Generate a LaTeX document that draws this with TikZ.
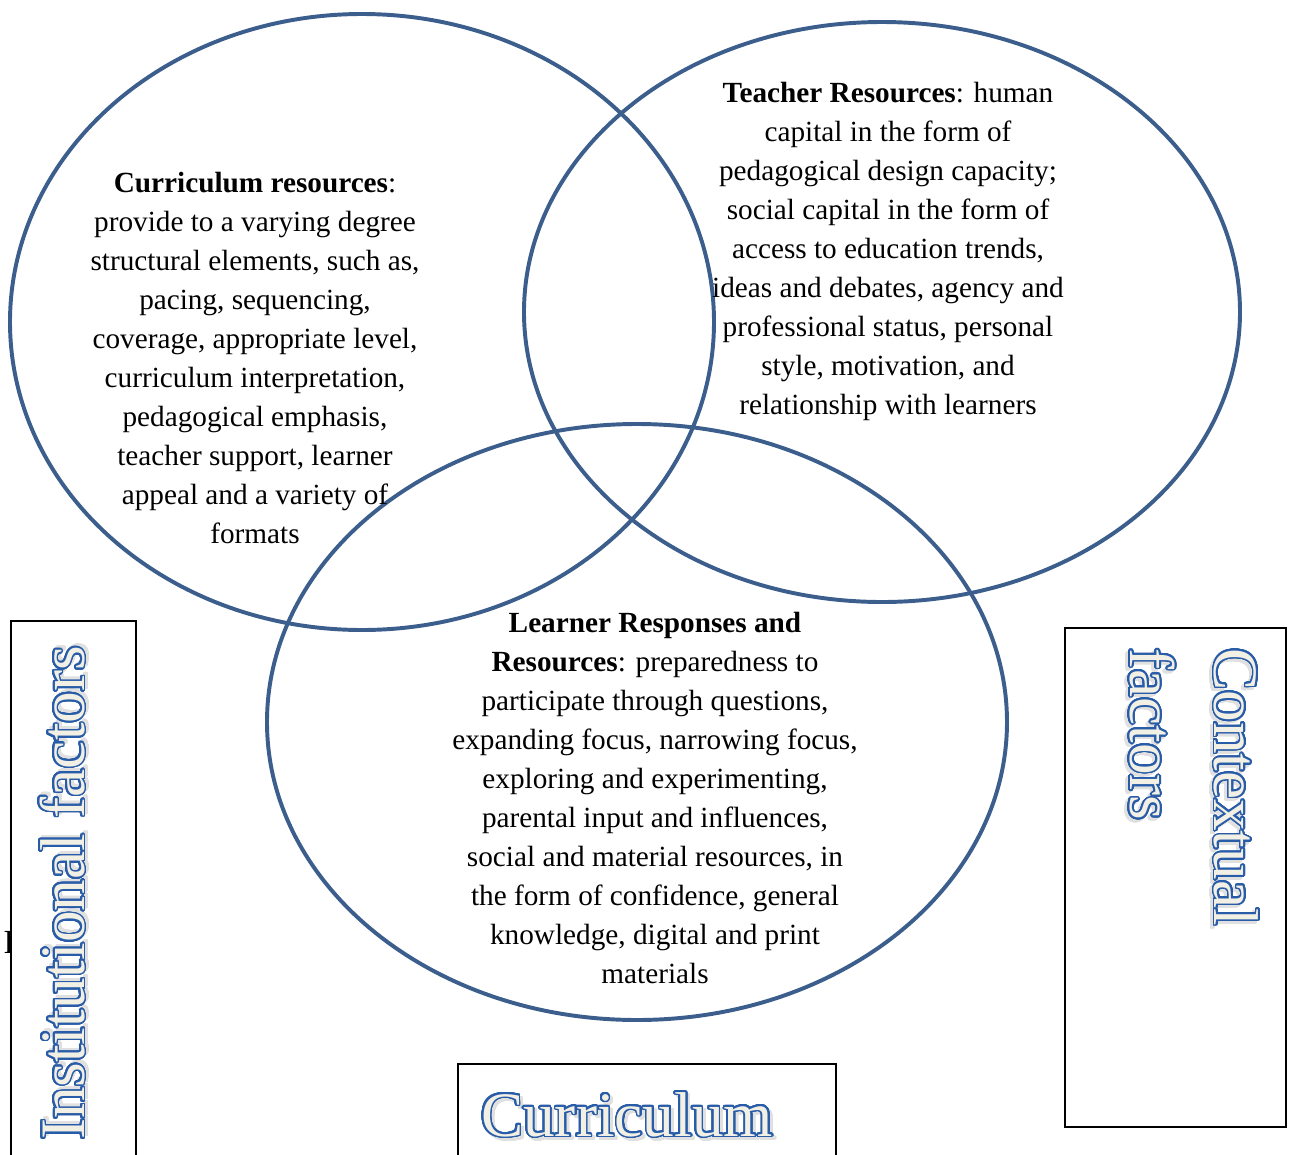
\documentclass[tikz,border=0pt]{standalone}
\usepackage{fontspec}
\setmainfont{Liberation Serif}
\usepackage{contour}
\contourlength{0.6pt}
\contournumber{32}
\definecolor{ringblue}{RGB}{59,94,140}
\definecolor{artblue}{RGB}{40,92,168}
\definecolor{artcream}{RGB}{242,240,229}
\tikzset{
  ring/.style={draw=ringblue,line width=1.4pt},
  body/.style={align=center,inner sep=0pt,font=\fontsize{10.4}{13.87}\selectfont},
  factorbox/.style={draw=black,line width=0.7pt,fill=white},
  artlabel/.style={inner sep=0pt,font=\fontsize{22.5}{30}\selectfont}
}
% outlined word with a faint drop shadow
\newcommand{\artword}[1]{%
  \rlap{\kern1pt\raisebox{-1pt}{\contour{black!12}{\textcolor{black!12}{#1}}}}%
  \contour{artblue}{\textcolor{artcream}{#1}}}

\begin{document}
\begin{tikzpicture}[x=0.0125cm,y=-0.0125cm]
  \useasboundingbox (0,0) rectangle (1294,1155);
  \clip (0,0) rectangle (1294,1155);

  % the three resource rings
  \draw[ring] (362,322) ellipse [x radius=352,y radius=308];
  \draw[ring] (882,312) ellipse [x radius=358,y radius=290];
  \draw[ring] (637,722) ellipse [x radius=370,y radius=298];

  \node[body] (curres) at (255,358) {%
    \textbf{Curriculum resources}:\\
    provide to a varying degree\\
    structural elements, such as,\\
    pacing, sequencing,\\
    coverage, appropriate level,\\
    curriculum interpretation,\\
    pedagogical emphasis,\\
    teacher support, learner\\
    appeal and a variety of\\
    formats};
  \node[body] (teachres) at (888,251) {%
    \textbf{Teacher Resources}: human\\
    capital in the form of\\
    pedagogical design capacity;\\
    social capital in the form of\\
    access to education trends,\\
    ideas and debates, agency and\\
    professional status, personal\\
    style, motivation, and\\
    relationship with learners};
  \node[body] (learnres) at (655,798) {%
    \textbf{Learner Responses and}\\
    \textbf{Resources}: preparedness to\\
    participate through questions,\\
    expanding focus, narrowing focus,\\
    exploring and experimenting,\\
    parental input and influences,\\
    social and material resources, in\\
    the form of confidence, general\\
    knowledge, digital and print\\
    materials};

  % framed factor labels
  \node[body,font=\fontsize{12}{13.87}\selectfont,anchor=base west] (stray) at (3,953) {F};
  \draw[factorbox] (11,621) rectangle (136,1180);
  \draw[factorbox] (1065,628) rectangle (1286,1127);
  \draw[factorbox] (458,1064) rectangle (836,1180);

  \node[artlabel,rotate=90,anchor=base] (inst) at (84,893) {\artword{Institutional factors}};
  \node[artlabel,rotate=-90,align=left] (ctx) at (1192,787) {\artword{Contextual}\\\artword{factors}};
  \node[artlabel,anchor=base] (curr) at (627,1136) {\artword{Curriculum}};
\end{tikzpicture}
\end{document}
